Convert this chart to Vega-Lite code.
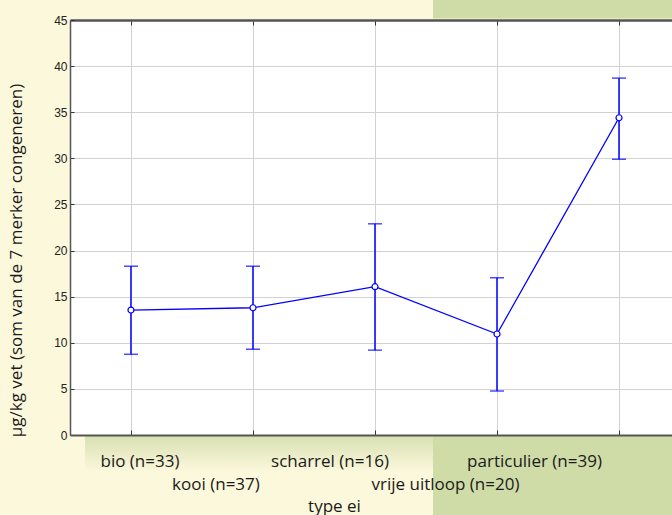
{
  "$schema": "https://vega.github.io/schema/vega-lite/v6.json",
  "width": 602,
  "height": 415,
  "autosize": {"type": "none"},
  "padding": {"left": 70, "top": 20, "right": 0, "bottom": 80},
  "background": "#fcf8dc",
  "config": {"view": {"fill": "white", "stroke": null}, "font": "Open Sans"},
  "datasets": {
    "eggs": [
      {"type": "bio (n=33)", "mean": 13.55, "lo": 8.75, "hi": 18.3},
      {"type": "kooi (n=37)", "mean": 13.8, "lo": 9.3, "hi": 18.3},
      {"type": "scharrel (n=16)", "mean": 16.08, "lo": 9.2, "hi": 22.9},
      {"type": "vrije uitloop (n=20)", "mean": 10.95, "lo": 4.77, "hi": 17.05},
      {"type": "particulier (n=39)", "mean": 34.4, "lo": 29.9, "hi": 38.7}
    ]
  },
  "layer": [
    {
      "data": {"values": [{}]},
      "mark": {"type": "rect", "color": "#cfdca8", "clip": false},
      "encoding": {
        "x": {"datum": 0.603, "type": "quantitative", "scale": {"domain": [0, 1], "nice": false}, "axis": null},
        "x2": {"datum": 1.1},
        "y": {"datum": 45.15, "type": "quantitative", "scale": {"domain": [0, 45], "nice": false}},
        "y2": {"datum": 48}
      }
    },
    {
      "data": {"values": [{}]},
      "mark": {"type": "rect", "clip": false, "color": {"gradient": "linear", "x1": 0, "y1": 0, "x2": 0, "y2": 1, "stops": [{"offset": 0, "color": "#d8e0b2"}, {"offset": 1, "color": "#fcf8dc"}]}},
      "encoding": {
        "x": {"datum": 0.025, "type": "quantitative", "scale": {"domain": [0, 1], "nice": false}, "axis": null},
        "x2": {"datum": 0.603},
        "y": {"datum": -0.1, "type": "quantitative"},
        "y2": {"datum": -4}
      }
    },
    {
      "data": {"values": [{}]},
      "mark": {"type": "rect", "color": "#cfdca8", "clip": false},
      "encoding": {
        "x": {"datum": 0.603, "type": "quantitative", "scale": {"domain": [0, 1], "nice": false}, "axis": null},
        "x2": {"datum": 1.1},
        "y": {"datum": -0.1, "type": "quantitative"},
        "y2": {"datum": -10}
      }
    },
    {
      "data": {"name": "eggs"},
      "mark": {"type": "rule", "color": "#0000ff", "strokeWidth": 1.5},
      "encoding": {
        "x": {
          "field": "type", "type": "nominal", "sort": null,
          "scale": {"type": "point", "padding": 0.467, "align": 0.535},
          "axis": {
            "orient": "bottom", "title": "type ei", "grid": false, "zindex": 1,
            "domainColor": "#555555", "domainWidth": 2, "tickColor": "#333333", "tickSize": -5, "tickWidth": 1,
            "labelFont": "Open Sans", "labelFontSize": 17, "labelColor": "#1a1a1a", "labelAngle": 0,
            "labelBaseline": "alphabetic", "labelPadding": 36, "labelOverlap": false, "labelBound": false, "labelFlush": false,
            "titleFont": "Open Sans", "titleFontSize": 17, "titleFontWeight": "normal", "titleColor": "#1a1a1a",
            "titleX": 264, "titleY": 76, "titleBaseline": "alphabetic", "titleAlign": "center",
            "encoding": {"labels": {
              "dx": {"value": {"expr": "datum.value === 'bio (n=33)' ? 8.5 : datum.value === 'kooi (n=37)' ? -37.5 : datum.value === 'scharrel (n=16)' ? -45.5 : datum.value === 'vrije uitloop (n=20)' ? -52 : -85"}},
              "dy": {"value": {"expr": "datum.value === 'kooi (n=37)' || datum.value === 'vrije uitloop (n=20)' ? 23 : 0"}}
            }}
          }
        },
        "y": {
          "field": "lo", "type": "quantitative",
          "scale": {"domain": [0, 45], "nice": false},
          "axis": {
            "values": [0, 5, 10, 15, 20, 25, 30, 35, 40, 45],
            "grid": true, "gridColor": "#d2d2d2", "gridWidth": 1, "zindex": 0,
            "domainColor": "#555555", "domainWidth": 1.5, "tickColor": "#333333", "tickSize": -4,
            "labelFont": "Liberation Sans", "labelFontSize": 12, "labelColor": "#222222", "labelPadding": 7,
            "title": "µg/kg vet (som van de 7 merker congeneren)",
            "titleFont": "Open Sans", "titleFontSize": 17, "titleFontWeight": "normal", "titleColor": "#1a1a1a",
            "titleX": -54, "titleY": 240, "titleAngle": 270, "titleBaseline": "middle", "titleAlign": "center"
          }
        },
        "y2": {"field": "hi"}
      }
    },
    {
      "data": {"name": "eggs"},
      "mark": {"type": "tick", "color": "#0000ff", "size": 14, "thickness": 1.5, "orient": "horizontal"},
      "encoding": {
        "x": {"field": "type", "type": "nominal", "sort": null, "scale": {"type": "point", "padding": 0.467, "align": 0.535}, "axis": null},
        "y": {"field": "lo", "type": "quantitative"}
      }
    },
    {
      "data": {"name": "eggs"},
      "mark": {"type": "tick", "color": "#0000ff", "size": 14, "thickness": 1.5, "orient": "horizontal"},
      "encoding": {
        "x": {"field": "type", "type": "nominal", "sort": null, "scale": {"type": "point", "padding": 0.467, "align": 0.535}, "axis": null},
        "y": {"field": "hi", "type": "quantitative"}
      }
    },
    {
      "data": {"name": "eggs"},
      "mark": {"type": "line", "color": "#0000ff", "strokeWidth": 1.3},
      "encoding": {
        "x": {
          "field": "type", "type": "nominal", "sort": null,
          "scale": {"type": "point", "padding": 0.467, "align": 0.535},
          "axis": {"orient": "top", "labels": false, "title": null, "grid": true, "gridColor": "#d2d2d2", "gridWidth": 1, "zindex": 0,
                   "domainColor": "#555555", "domainWidth": 2.5, "tickColor": "#333333", "tickSize": -5}
        },
        "y": {"field": "mean", "type": "quantitative"}
      }
    },
    {
      "data": {"name": "eggs"},
      "mark": {"type": "point", "shape": "circle", "filled": true, "fill": "white", "stroke": "#0000ff", "strokeWidth": 1.2, "size": 36, "opacity": 1},
      "encoding": {
        "x": {"field": "type", "type": "nominal", "sort": null, "scale": {"type": "point", "padding": 0.467, "align": 0.535}, "axis": null},
        "y": {"field": "mean", "type": "quantitative"}
      }
    }
  ],
  "resolve": {"scale": {"x": "independent"}}
}
